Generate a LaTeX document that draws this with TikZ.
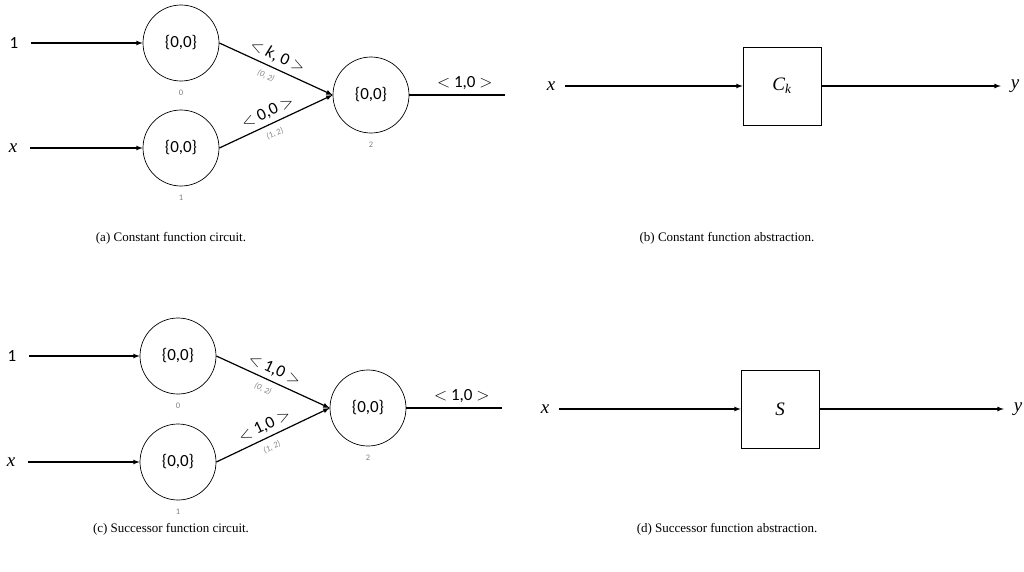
\documentclass[tikz,border=0pt]{standalone}
\usepackage{fontspec}
\setmainfont{Liberation Serif}
\newfontfamily\calibri{Carlito}
\usetikzlibrary{arrows}

\begin{document}
\begin{tikzpicture}[>=latex,x=1pt,y=-1pt,
  neuron/.style={draw,circle,minimum size=76pt,inner sep=0pt,line width=0.7pt,font=\calibri\fontsize{17}{17}\selectfont},
  block/.style={draw,minimum size=78pt,inner sep=0pt,line width=0.7pt,font=\itshape\fontsize{19}{19}\selectfont},
  terminal/.style={inner sep=2pt,outer sep=8pt,font=\calibri\fontsize{17}{17}\selectfont},
  var/.style={terminal,font=\itshape\fontsize{19}{19}\selectfont},
  idx/.style={below=5pt,text=gray,font=\calibri\fontsize{8.5}{8.5}\selectfont},
  wlab/.style={sloped,pos=.47,above=1pt,font=\calibri\fontsize{17}{17}\selectfont},
  slab/.style={sloped,pos=.45,below=3pt,text=gray,font=\calibri\itshape\fontsize{8.5}{8.5}\selectfont},
  olab/.style={pos=.58,above=1pt,font=\calibri\fontsize{17}{17}\selectfont},
  wire/.style={line width=1.2pt},
  caption/.style={font=\fontsize{13}{13}\selectfont}]

\useasboundingbox (0,0) rectangle (1024,571);

% Schaltkreis (a)
\node[neuron] (a0) at (181,43) {\{0,0\}};
\node[neuron] (a1) at (181,148) {\{0,0\}};
\node[neuron] (a2) at (371,95) {\{0,0\}};
\node[idx] at (a0.south) {0};
\node[idx] at (a1.south) {1};
\node[idx] at (a2.south) {2};
\node[terminal] (ain0) at (14,43) {1};
\node[var] (ain1) at (13,148) {x};
\coordinate (aout) at (505,95);
\draw[->,wire,shorten <=3pt] (ain0) -- (a0);
\draw[->,wire,shorten <=3pt] (ain1) -- (a1);
\draw[->,wire] (a0.east) -- (a2.west)
  node[wlab] {$<$ \textit{k}, 0 $>$} node[slab] {(0, 2)};
\draw[->,wire] (a1.east) -- (a2.west)
  node[wlab] {$<$ 0,0 $>$} node[slab] {(1, 2)};
\draw[wire] (a2.east) -- (aout) node[olab] {$<$ 1,0 $>$};
\node[caption] at (171,238) {(a) Constant function circuit.};

% Abstraktion (b)
\node[block] (bC) at (782,86) {C\textsubscript{k}};
\node[var] (bx) at (551,86) {x};
\node[var] (by) at (1015,86) {y};
\draw[->,wire] (bx) -- (bC);
\draw[->,wire] (bC) -- (by);
\node[caption] at (727,238) {(b) Constant function abstraction.};

% Schaltkreis (c)
\node[neuron] (c0) at (178,356) {\{0,0\}};
\node[neuron] (c1) at (178,462) {\{0,0\}};
\node[neuron] (c2) at (368,408) {\{0,0\}};
\node[idx] at (c0.south) {0};
\node[idx] at (c1.south) {1};
\node[idx] at (c2.south) {2};
\node[terminal] (cin0) at (12,356) {1};
\node[var] (cin1) at (11,462) {x};
\coordinate (cout) at (502,408);
\draw[->,wire,shorten <=3pt] (cin0) -- (c0);
\draw[->,wire,shorten <=3pt] (cin1) -- (c1);
\draw[->,wire] (c0.east) -- (c2.west)
  node[wlab] {$<$ 1,0 $>$} node[slab] {(0, 2)};
\draw[->,wire] (c1.east) -- (c2.west)
  node[wlab] {$<$ 1,0 $>$} node[slab] {(1, 2)};
\draw[wire] (c2.east) -- (cout) node[olab] {$<$ 1,0 $>$};
\node[caption] at (171,529) {(c) Successor function circuit.};

% Abstraktion (d)
\node[block] (dS) at (780,409) {S};
\node[var] (dx) at (545,409) {x};
\node[var] (dy) at (1018,409) {y};
\draw[->,wire] (dx) -- (dS);
\draw[->,wire] (dS) -- (dy);
\node[caption] at (727,529) {(d) Successor function abstraction.};

\end{tikzpicture}
\end{document}
